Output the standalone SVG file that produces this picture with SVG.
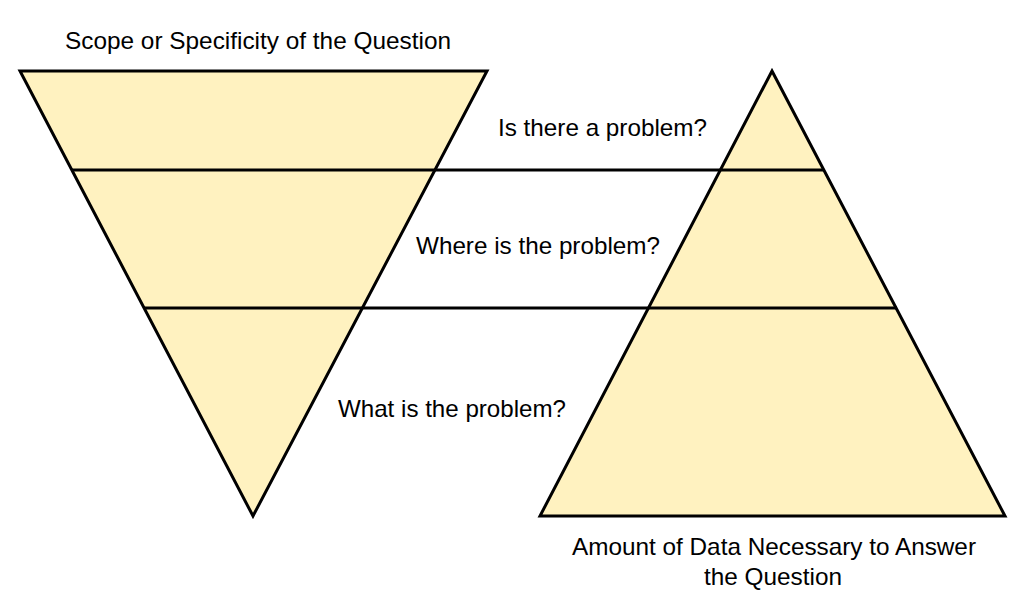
<svg xmlns="http://www.w3.org/2000/svg" width="1035" height="611" viewBox="0 0 1035 611">
<style>
.shape{fill:#fff2c0;stroke:#000;stroke-width:3;stroke-linejoin:miter}
.line{stroke:#000;stroke-width:3;fill:none}
.lbl{font-family:"Liberation Sans",Arial,sans-serif;font-size:24px;fill:#000}
</style>
<rect width="1035" height="611" fill="#fff"/>
<g id="scope-triangle">
<polygon class="shape" points="20,71 487,71 253,516"/>
</g>
<g id="data-triangle">
<polygon class="shape" points="772,71 1005,516 540,516"/>
</g>
<g id="connectors">
<line class="line" x1="72" y1="170" x2="824" y2="170"/>
<line class="line" x1="144" y1="308" x2="897" y2="308"/>
</g>
<g id="labels">
<text class="lbl" x="65" y="49" textLength="386" lengthAdjust="spacingAndGlyphs">Scope or Specificity of the Question</text>
<text class="lbl" x="498" y="136" textLength="209" lengthAdjust="spacingAndGlyphs">Is there a problem?</text>
<text class="lbl" x="416" y="254" textLength="244" lengthAdjust="spacingAndGlyphs">Where is the problem?</text>
<text class="lbl" x="338" y="417" textLength="228" lengthAdjust="spacingAndGlyphs">What is the problem?</text>
<text class="lbl" x="572" y="555" textLength="404" lengthAdjust="spacingAndGlyphs">Amount of Data Necessary to Answer</text>
<text class="lbl" x="704" y="585" textLength="138" lengthAdjust="spacingAndGlyphs">the Question</text>
</g>
</svg>
